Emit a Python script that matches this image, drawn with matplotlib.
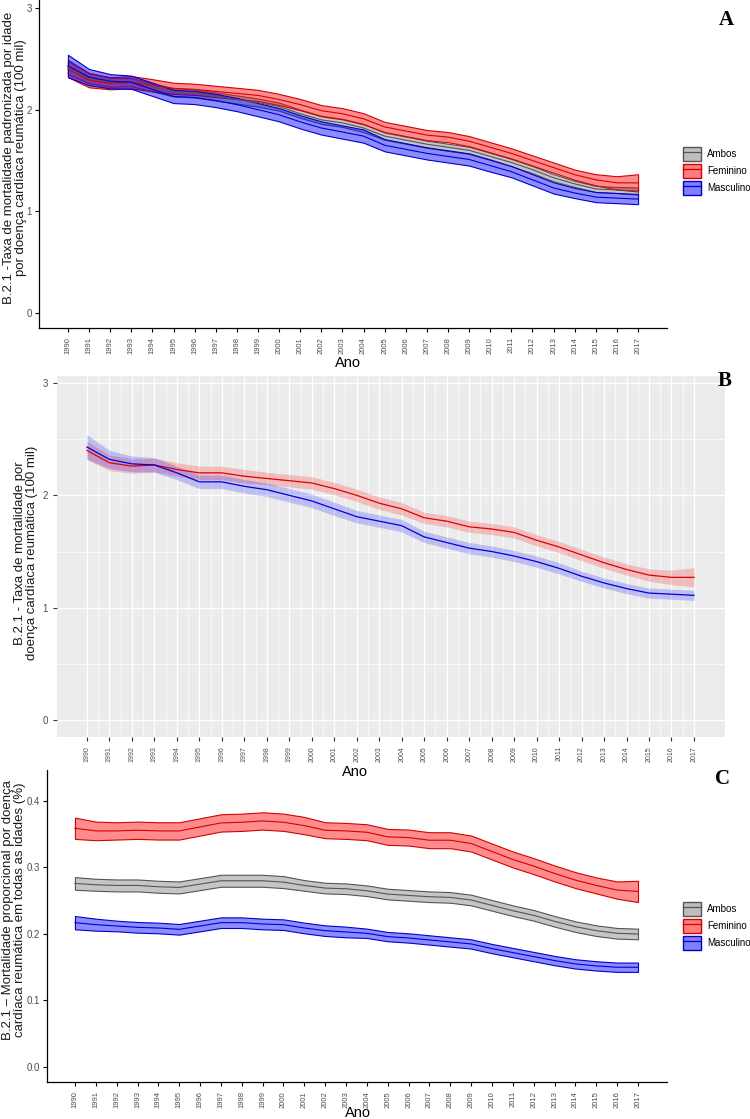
import matplotlib

matplotlib.use("Agg")
import matplotlib.pyplot as plt
import numpy as np
from matplotlib.colors import to_rgba
from matplotlib.patches import Patch
from matplotlib.lines import Line2D
from matplotlib.legend_handler import HandlerTuple

plt.rcParams["font.family"] = ["Liberation Sans", "DejaVu Sans"]

years = np.arange(1990, 2018)
year_labels = [str(y) for y in years]
series_names = ["Ambos", "Feminino", "Masculino"]

# --- panel A: age-standardised rate (per 100 mil)
ambos_a = [2.42, 2.31, 2.27, 2.27, 2.22, 2.17, 2.16, 2.13, 2.10, 2.07, 2.03, 1.96, 1.90, 1.87,
           1.82, 1.74, 1.70, 1.66, 1.63, 1.60, 1.54, 1.48, 1.41, 1.33, 1.27, 1.22, 1.21, 1.20]
ambos_a_err = [0.07, 0.05, 0.045, 0.04, 0.04, 0.04, 0.04, 0.04, 0.04, 0.04, 0.04, 0.04, 0.04, 0.04,
               0.04, 0.035, 0.035, 0.035, 0.035, 0.035, 0.035, 0.035, 0.035, 0.035, 0.03, 0.03, 0.03, 0.035]
fem_a = [2.40, 2.29, 2.26, 2.27, 2.24, 2.21, 2.20, 2.18, 2.16, 2.14, 2.10, 2.05, 1.99, 1.96,
         1.91, 1.83, 1.79, 1.75, 1.73, 1.69, 1.63, 1.57, 1.50, 1.43, 1.36, 1.31, 1.28, 1.28]
fem_a_err = [0.08, 0.07, 0.06, 0.06, 0.06, 0.055, 0.055, 0.055, 0.055, 0.055, 0.055, 0.055, 0.055, 0.055,
             0.055, 0.05, 0.05, 0.05, 0.05, 0.05, 0.05, 0.05, 0.05, 0.05, 0.05, 0.055, 0.065, 0.085]
masc_a = [2.43, 2.32, 2.28, 2.27, 2.20, 2.13, 2.12, 2.09, 2.05, 2.00, 1.95, 1.88, 1.82, 1.78,
          1.74, 1.65, 1.61, 1.57, 1.54, 1.51, 1.45, 1.39, 1.31, 1.23, 1.18, 1.14, 1.13, 1.12]
masc_a_err = [0.11, 0.08, 0.07, 0.065, 0.065, 0.065, 0.065, 0.065, 0.065, 0.065, 0.065, 0.065, 0.065, 0.065,
              0.065, 0.06, 0.06, 0.06, 0.06, 0.06, 0.06, 0.055, 0.055, 0.055, 0.05, 0.05, 0.05, 0.05]

# --- panel B: crude rate (per 100 mil)
fem_b = [2.40, 2.29, 2.26, 2.27, 2.23, 2.20, 2.20, 2.17, 2.15, 2.13, 2.11, 2.06, 2.00, 1.93,
         1.88, 1.80, 1.77, 1.72, 1.70, 1.67, 1.60, 1.54, 1.47, 1.40, 1.34, 1.29, 1.27, 1.27]
fem_b_err = [0.08, 0.07, 0.065, 0.06, 0.06, 0.06, 0.06, 0.06, 0.055, 0.055, 0.055, 0.055, 0.055, 0.055,
             0.055, 0.05, 0.05, 0.05, 0.05, 0.05, 0.05, 0.05, 0.05, 0.05, 0.05, 0.055, 0.065, 0.085]
masc_b = [2.43, 2.32, 2.28, 2.27, 2.20, 2.12, 2.12, 2.08, 2.05, 2.00, 1.95, 1.88, 1.81, 1.77,
          1.73, 1.63, 1.58, 1.53, 1.50, 1.46, 1.41, 1.35, 1.28, 1.22, 1.17, 1.13, 1.12, 1.11]
masc_b_err = [0.11, 0.08, 0.07, 0.065, 0.06, 0.06, 0.06, 0.06, 0.06, 0.06, 0.06, 0.06, 0.055, 0.055,
              0.055, 0.05, 0.05, 0.05, 0.05, 0.05, 0.05, 0.05, 0.045, 0.045, 0.045, 0.045, 0.045, 0.045]

# --- panel C: proportional mortality (%)
ambos_c = [0.276, 0.274, 0.273, 0.273, 0.271, 0.270, 0.275, 0.280, 0.280, 0.280, 0.278, 0.273, 0.269, 0.268,
           0.265, 0.260, 0.258, 0.256, 0.255, 0.251, 0.243, 0.235, 0.228, 0.219, 0.211, 0.205, 0.201, 0.200]
ambos_c_err = [0.0095, 0.009, 0.009, 0.009, 0.009, 0.009, 0.009, 0.009, 0.009, 0.009, 0.009, 0.008, 0.008, 0.008,
               0.008, 0.008, 0.008, 0.008, 0.008, 0.008, 0.008, 0.008, 0.008, 0.008, 0.008, 0.008, 0.008, 0.008]
fem_c = [0.359, 0.355, 0.355, 0.356, 0.355, 0.355, 0.361, 0.367, 0.368, 0.370, 0.368, 0.363, 0.356, 0.355,
         0.353, 0.346, 0.345, 0.341, 0.341, 0.336, 0.324, 0.312, 0.302, 0.291, 0.281, 0.273, 0.266, 0.264]
fem_c_err = [0.016, 0.014, 0.013, 0.013, 0.013, 0.013, 0.013, 0.013, 0.013, 0.013, 0.013, 0.013, 0.012, 0.012,
             0.012, 0.012, 0.012, 0.012, 0.012, 0.012, 0.012, 0.012, 0.012, 0.012, 0.012, 0.012, 0.013, 0.016]
masc_c = [0.217, 0.214, 0.212, 0.210, 0.209, 0.207, 0.212, 0.217, 0.217, 0.215, 0.214, 0.209, 0.205, 0.203,
          0.201, 0.196, 0.194, 0.191, 0.188, 0.185, 0.178, 0.172, 0.166, 0.160, 0.155, 0.152, 0.150, 0.150]
masc_c_err = [0.01, 0.009, 0.008, 0.008, 0.008, 0.008, 0.008, 0.008, 0.008, 0.008, 0.008, 0.008, 0.008, 0.008,
              0.007, 0.007, 0.007, 0.007, 0.007, 0.007, 0.007, 0.007, 0.007, 0.007, 0.007, 0.007, 0.007, 0.007]

FILL = {"Ambos": "#7f7f7f", "Feminino": "#ff0000", "Masculino": "#0000ff"}
EDGE = {"Ambos": "#555555", "Feminino": "#d40000", "Masculino": "#0000cc"}
SERIF = ["Liberation Serif", "DejaVu Serif"]

W, H = 750, 1119


def px_axes(fig, x0, y0, x1, y1):
    # pixel box (top-left origin) -> figure axes
    return fig.add_axes([x0 / W, 1 - y1 / H, (x1 - x0) / W, (y1 - y0) / H])


def classic(ax):
    for s in ("top", "right"):
        ax.spines[s].set_visible(False)
    for s in ("left", "bottom"):
        ax.spines[s].set_linewidth(0.9)
    ax.tick_params(length=3, width=0.8, colors="black", labelcolor="#4d4d4d")


def ribbon(ax, name, c, err, alpha=0.45):
    c = np.asarray(c)
    err = np.asarray(err)
    ax.fill_between(years, c - err, c + err, facecolor=to_rgba(FILL[name], alpha),
                    edgecolor=EDGE[name], lw=0.8)
    ax.plot(years, c, color=EDGE[name], lw=0.8)


def legend(fig, ycenter):
    handles = [(Patch(facecolor=to_rgba(FILL[n], 0.5), edgecolor=EDGE[n], lw=1.0),
                Line2D([], [], color=EDGE[n], lw=0.9)) for n in series_names]
    fig.legend(handles, series_names, loc="center left",
               bbox_to_anchor=(683 / W, 1 - ycenter / H), frameon=False,
               handler_map={tuple: HandlerTuple(ndivide=1, pad=0)},
               fontsize=7, handlelength=1.85, handleheight=1.75,
               labelspacing=0.35, handletextpad=0.6, borderpad=0, borderaxespad=0)


fig = plt.figure(figsize=(W / 100, H / 100), dpi=100)

# ---------------- A
axA = px_axes(fig, 39, 0, 667, 328)
classic(axA)
ribbon(axA, "Ambos", ambos_a, ambos_a_err)
ribbon(axA, "Feminino", fem_a, fem_a_err)
ribbon(axA, "Masculino", masc_a, masc_a_err)
axA.set_xlim(1988.63, 2018.37)
axA.set_ylim(-0.148, 3.079)
axA.set_yticks([0, 1, 2, 3])
axA.tick_params(axis="y", labelsize=7, pad=2)
axA.set_xticks(years)
axA.set_xticklabels(year_labels, rotation=90, fontsize=5.5)
legend(fig, 171)
fig.text(15 / W, 1 - 158 / H,
         "B.2.1 -Taxa de mortalidade padronizada por idade\npor doença cardíaca reumática (100 mil)",
         rotation=90, ha="center", va="center", fontsize=9.5, color="#1a1a1a", linespacing=1.0)
fig.text(348 / W, 1 - 363 / H, "Ano", ha="center", va="center", fontsize=10.5)
fig.text(726 / W, 1 - 20 / H, "A", ha="center", va="center", fontsize=15,
         family=SERIF, weight="bold")

# ---------------- B
axB = px_axes(fig, 57, 376, 725, 737)
axB.set_facecolor("#ebebeb")
for s in axB.spines.values():
    s.set_visible(False)
axB.set_axisbelow(True)
axB.fill_between(years, np.array(fem_b) - fem_b_err, np.array(fem_b) + fem_b_err,
                 color="red", alpha=0.2, lw=0)
axB.fill_between(years, np.array(masc_b) - masc_b_err, np.array(masc_b) + masc_b_err,
                 color="blue", alpha=0.2, lw=0)
axB.plot(years, fem_b, color="#e00000", lw=0.9)
axB.plot(years, masc_b, color="#0000e0", lw=0.9)
axB.set_xlim(1988.67, 2018.38)
axB.set_ylim(-0.151, 3.062)
axB.set_yticks([0, 1, 2, 3])
axB.set_yticks([0.5, 1.5, 2.5], minor=True)
axB.set_xticks(years)
axB.set_xticks(years[:-1] + 0.5, minor=True)
axB.grid(which="major", color="white", lw=1.0)
axB.grid(which="minor", color="white", lw=0.5)
axB.tick_params(which="major", length=3, width=0.8, colors="#333333", labelcolor="#4d4d4d")
axB.tick_params(which="minor", length=0)
axB.tick_params(axis="y", labelsize=7)
axB.set_xticklabels(year_labels, rotation=90, fontsize=5)
fig.text(26 / W, 1 - 553 / H,
         "B.2.1 - Taxa de mortalidade por\ndoença cardíaca reumática (100 mil)",
         rotation=90, ha="center", va="center", fontsize=9.5, color="#1a1a1a", linespacing=1.0)
fig.text(355 / W, 1 - 772 / H, "Ano", ha="center", va="center", fontsize=10.5)
fig.text(725 / W, 1 - 381 / H, "B", ha="center", va="center", fontsize=15,
         family=SERIF, weight="bold")

# ---------------- C
axC = px_axes(fig, 47, 770, 667, 1082)
classic(axC)
ribbon(axC, "Ambos", ambos_c, ambos_c_err)
ribbon(axC, "Feminino", fem_c, fem_c_err)
ribbon(axC, "Masculino", masc_c, masc_c_err)
axC.set_xlim(1988.66, 2018.39)
axC.set_ylim(-0.0226, 0.4466)
axC.set_yticks([0.0, 0.1, 0.2, 0.3, 0.4])
axC.set_yticklabels(["0.0", "0.1", "0.2", "0.3", "0.4"])
axC.tick_params(axis="y", labelsize=7, pad=2)
axC.set_xticks(years)
axC.set_xticklabels(year_labels, rotation=90, fontsize=5.5)
legend(fig, 926)
fig.text(14 / W, 1 - 910 / H,
         "B.2.1 \u2013 Mortalidade proporcional por doença\ncardíaca reumática em todas as idades (%)",
         rotation=90, ha="center", va="center", fontsize=9.5, color="#1a1a1a", linespacing=1.0)
fig.text(358 / W, 1 - 1113 / H, "Ano", ha="center", va="center", fontsize=10.5)
fig.text(722 / W, 1 - 779 / H, "C", ha="center", va="center", fontsize=15,
         family=SERIF, weight="bold")

fig.savefig("out.png", dpi=100)
